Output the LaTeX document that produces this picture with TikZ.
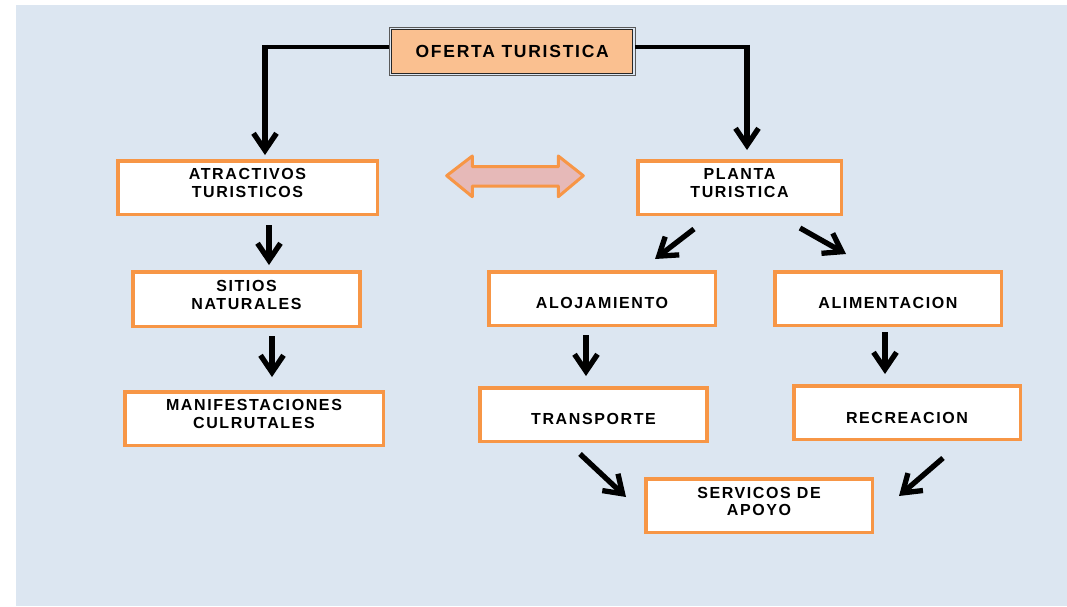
\documentclass[tikz,border=0pt]{standalone}
\usepackage{fontspec}
\setmainfont{Liberation Sans}[LetterSpace=10]
\usetikzlibrary{arrows.meta,calc}
\definecolor{bgc}{HTML}{DCE6F1}
\definecolor{orng}{HTML}{F79646}
\definecolor{peach}{HTML}{FAC090}
\definecolor{pinkf}{HTML}{E6B9B8}
\tikzset{
  box/.style={draw=orng, line width=3.5pt, fill=white, minimum width=227pt, minimum height=53.5pt, inner sep=0pt},
  lbl/.style={font=\bfseries\fontsize{16}{17.8}\selectfont, align=center, inner sep=0pt, text=black},
  arr/.style={line width=5.3pt, -{Straight Barb[length=17pt,width=23pt]}},
  hline/.style={line width=3.6pt},
}
\begin{document}
\begin{tikzpicture}[x=1pt,y=-1pt]
\useasboundingbox (0,0) rectangle (1067,606);
\fill[bgc] (16,5) rectangle (1067,606);
% top box
\node[draw=black!85, line width=1.3pt, fill=peach, minimum width=241pt, minimum height=43.6pt, outer sep=0pt,
      font=\bfseries\fontsize{17.5}{19}\selectfont] (of) at (512.2,51.5) {OFERTA TURISTICA};
\draw[black!65, line width=1pt] ([shift={(-2.7pt,2.4pt)}]of.north west) rectangle ([shift={(2.7pt,-2.4pt)}]of.south east);
% boxes
\node[box, minimum width=259.5pt] (atr) at (247.5,187.5) {};
\node[lbl] (atrT) at ([yshift=4.3pt]atr.center) {ATRACTIVOS\\TURISTICOS};
\node[box, minimum width=203.5pt] (plan) at (739.5,187.5) {};
\node[lbl] (planT) at ([yshift=4.6pt]plan.center) {PLANTA\\TURISTICA};
\node[box, minimum height=54.5pt] (sit) at (246.5,299) {};
\node[lbl] (sitT) at ([yshift=4.3pt]sit.center) {SITIOS\\NATURALES};
\node[box, minimum width=258.5pt] (man) at (254,418.5) {};
\node[lbl] (manT) at ([yshift=4.5pt]man.center) {MANIFESTACIONES\\CULRUTALES};
\node[box, minimum width=226.5pt] (aloj) at (602,298.5) {};
\node[lbl] (alojT) at ([yshift=-4pt]aloj.center) {ALOJAMIENTO};
\node[box, minimum width=226.5pt] (alim) at (888,298.5) {};
\node[lbl] (alimT) at ([yshift=-4pt]alim.center) {ALIMENTACION};
\node[box] (trans) at (593.5,414.5) {};
\node[lbl] (transT) at ([yshift=-4pt]trans.center) {TRANSPORTE};
\node[box, minimum width=226.5pt] (recr) at (907,412.5) {};
\node[lbl] (recrT) at ([yshift=-5pt]recr.center) {RECREACION};
\node[box, minimum width=226.5pt] (serv) at (759,505.5) {};
\node[lbl] (servT) at ([yshift=4pt]serv.center) {SERVICOS DE\\APOYO};
% double arrow
\filldraw[fill=pinkf, draw=orng, line width=3pt, line join=round]
  (446.7,175.7) -- (472.3,156) -- (472.3,166.7) -- (558.3,166.7) -- (558.3,156) -- (583.3,175.7)
  -- (558.3,196.7) -- (558.3,186) -- (472.3,186) -- (472.3,196.7) -- cycle;
% connectors from top box
\coordinate (cL) at (265,46.7);
\coordinate (cR) at (747,46.7);
\draw[hline] ($(of.west)+(-2.7,-4.8)$) -- ($(cL)+(-2.5,0)$);
\draw[arr] ($(cL)+(0,-1.8)$) -- ($(atr.north)+(17.5,-4)$);
\draw[hline] ($(of.east)+(2.7,-4.8)$) -- ($(cR)+(2.5,0)$);
\draw[arr] ($(cR)+(0,-1.8)$) -- ($(plan.north)+(7.5,-9)$);
% other arrows
\draw[arr] ($(atr.south)+(21.5,9)$) -- ($(sit.north)+(22.5,-5)$);
\draw[arr] ($(sit.south)+(25.5,8)$) -- ($(man.north)+(18,-13)$);
\draw[arr] ($(plan.south)+(-45.5,13)$) -- ($(aloj.north)+(53,-11)$);
\draw[arr] ($(plan.south)+(60.5,12)$) -- ($(alim.north)+(-42,-16)$);
\draw[arr] ($(aloj.south)+(-16,8)$) -- ($(trans.north)+(-7.5,-10)$);
\draw[arr] ($(alim.south)+(-3,5)$) -- ($(recr.north)+(-22,-10)$);
\draw[arr] ($(trans.south)+(-13.5,11)$) -- ($(serv.west)+(-18,-8.5)$);
\draw[arr] ($(recr.south)+(36,17)$) -- ($(serv.east)+(25,-9.5)$);
\end{tikzpicture}
\end{document}
